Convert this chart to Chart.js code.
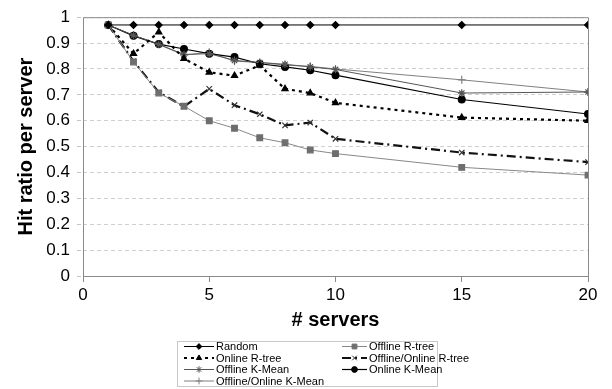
<!DOCTYPE html>
<html>
<head>
<meta charset="utf-8">
<script src="https://cdn.jsdelivr.net/npm/chart.js@4.4.1/dist/chart.umd.min.js"></script>
<style>
    html, body { margin: 0; padding: 0; background: #fff; }
</style>
</head>
<body>
<canvas id="myChart" width="612" height="389"></canvas>
<script>
// the data

const servers = [1, 2, 3, 4, 5, 6, 7, 8, 9, 10, 15, 20]
const xTicks = [0, 5, 10, 15, 20]

const random = [0.97, 0.97, 0.97, 0.97, 0.97, 0.97, 0.97, 0.97, 0.97, 0.97, 0.97, 0.97]
const offlineRtree = [0.97, 0.827, 0.707, 0.656, 0.60, 0.571, 0.534, 0.515, 0.487, 0.473, 0.42, 0.39]
const onlineRtree = [0.97, 0.859, 0.942, 0.84, 0.787, 0.774, 0.814, 0.723, 0.707, 0.669, 0.612, 0.60]
const offOnRtree = [0.97, 0.83, 0.71, 0.655, 0.723, 0.66, 0.625, 0.582, 0.593, 0.53, 0.477, 0.44]
const offlineKmean = [0.97, 0.93, 0.895, 0.856, 0.859, 0.833, 0.825, 0.818, 0.808, 0.798, 0.707, 0.711]
const onlineKmean = [0.97, 0.928, 0.896, 0.877, 0.859, 0.846, 0.82, 0.808, 0.795, 0.776, 0.682, 0.626]
const offOnKmean = [0.97, 0.93, 0.895, 0.853, 0.865, 0.83, 0.825, 0.815, 0.81, 0.80, 0.758, 0.711]

const FONT = "'Liberation Sans', Arial, sans-serif"

function pts(values) {
    return values.map((v, i) => ({ x: servers[i], y: v }))
}

function series(label, values, color, width, dash, style, radius, pointColor) {
    return {
        label: label,
        data: pts(values),
        borderColor: color,
        borderWidth: width,
        borderDash: dash,
        pointStyle: style,
        pointRadius: radius,
        pointBackgroundColor: pointColor,
        pointBorderColor: pointColor,
        pointBorderWidth: 1.2,
        tension: 0,
        fill: false
    }
}

const datasets = [
    series('Random', random, '#000', 1, [], 'rectRot', 3.4, '#000'),
    series('Offline R-tree', offlineRtree, '#888', 1, [], 'rect', 4, '#6e6e6e'),
    series('Online R-tree', onlineRtree, '#000', 2.2, [3, 4], 'triangle', 3.6, '#000'),
    series('Offline/Online R-tree', offOnRtree, '#111', 2.2, [9, 4, 2, 4], 'crossRot', 3.8, '#333'),
    series('Offline K-Mean', offlineKmean, '#555', 1, [], 'star', 3.8, '#555'),
    series('Online K-Mean', onlineKmean, '#000', 1.2, [], 'circle', 3.4, '#000'),
    series('Offline/Online K-Mean', offOnKmean, '#808080', 1, [], 'cross', 4, '#808080')
]

// box round the plot area
const frame = {
    id: 'frame',
    beforeDatasetsDraw(chart) {
        const { ctx, chartArea: a } = chart
        ctx.save()
        ctx.strokeStyle = '#8a8a8a'
        ctx.lineWidth = 1
        ctx.setLineDash([])
        ctx.beginPath()
        ctx.moveTo(a.left + 0.5, a.bottom)
        ctx.lineTo(a.left + 0.5, a.top + 0.5)
        ctx.lineTo(a.right + 0.5, a.top + 0.5)
        ctx.lineTo(a.right + 0.5, a.bottom)
        ctx.stroke()
        ctx.restore()
    }
}

// legend in two columns like the original
const legendBox = {
    id: 'legendBox',
    afterDraw(chart) {
        const ctx = chart.ctx
        ctx.save()
        ctx.strokeStyle = '#c8c8c8'
        ctx.lineWidth = 1
        ctx.strokeRect(177.5, 341.5, 260, 45)
        const rows = [346.5, 358, 369.5, 381]
        const cols = [{ x0: 184, x1: 214, tx: 216 }, { x0: 342, x1: 367, tx: 369 }]
        chart.data.datasets.forEach((ds, i) => {
            const c = cols[i % 2]
            const y = rows[Math.floor(i / 2)]
            ctx.strokeStyle = ds.borderColor
            ctx.lineWidth = ds.borderWidth
            ctx.setLineDash(ds.borderDash)
            ctx.beginPath()
            ctx.moveTo(c.x0, y)
            ctx.lineTo(c.x1, y)
            ctx.stroke()
            ctx.setLineDash([])
            ctx.fillStyle = ds.pointBackgroundColor
            ctx.strokeStyle = ds.pointBorderColor
            ctx.lineWidth = 1
            Chart.helpers.drawPoint(ctx, {
                pointStyle: ds.pointStyle,
                radius: ds.pointRadius * 0.85,
                rotation: 0,
                borderWidth: 1
            }, (c.x0 + c.x1) / 2, y)
            ctx.fillStyle = '#000'
            ctx.font = '11px ' + FONT
            ctx.textBaseline = 'middle'
            ctx.textAlign = 'left'
            ctx.fillText(ds.label, c.tx, y + 0.5)
        })
        ctx.restore()
    }
}

const ctx = document.querySelector('#myChart').getContext('2d')

let chart = new Chart(ctx, {
    type: 'line',
    data: { datasets: datasets },
    plugins: [frame, legendBox],
    options: {
        responsive: false,
        animation: false,
        layout: { padding: { left: 0, right: 24, top: 12, bottom: 54 } },
        plugins: {
            legend: { display: false },
            tooltip: { enabled: false }
        },
        scales: {
            x: {
                type: 'linear',
                min: 0,
                max: 20,
                afterBuildTicks: scale => {
                    scale.ticks = xTicks.map(v => ({ value: v }))
                },
                afterFit: scale => { scale.height = 59 },
                grid: {
                    drawOnChartArea: false,
                    drawTicks: true,
                    tickLength: 6,
                    color: '#8a8a8a'
                },
                border: { color: '#8a8a8a', width: 1 },
                ticks: {
                    color: '#000',
                    padding: 3,
                    maxRotation: 0,
                    font: { family: FONT, size: 17 }
                },
                title: {
                    display: true,
                    text: '# servers',
                    color: '#000',
                    padding: { top: 0, bottom: 3 },
                    font: { family: FONT, size: 20, weight: 'bold' }
                }
            },
            y: {
                min: 0,
                max: 1,
                afterFit: scale => { scale.width = 83 },
                grid: {
                    color: '#cfcfcf',
                    borderDash: [4, 3],
                    tickLength: 6,
                    tickColor: '#c4c4c4',
                    tickBorderDash: [4, 3]
                },
                border: { display: false, dash: [4, 3] },
                ticks: {
                    stepSize: 0.1,
                    color: '#000',
                    padding: 7,
                    font: { family: FONT, size: 17 },
                    callback: v => Math.round(v * 10) / 10
                },
                title: {
                    display: true,
                    text: 'Hit ratio per server',
                    color: '#000',
                    padding: { top: 14, bottom: 0 },
                    font: { family: FONT, size: 20, weight: 'bold' }
                }
            }
        }
    }
})
</script>
</body>
</html>
